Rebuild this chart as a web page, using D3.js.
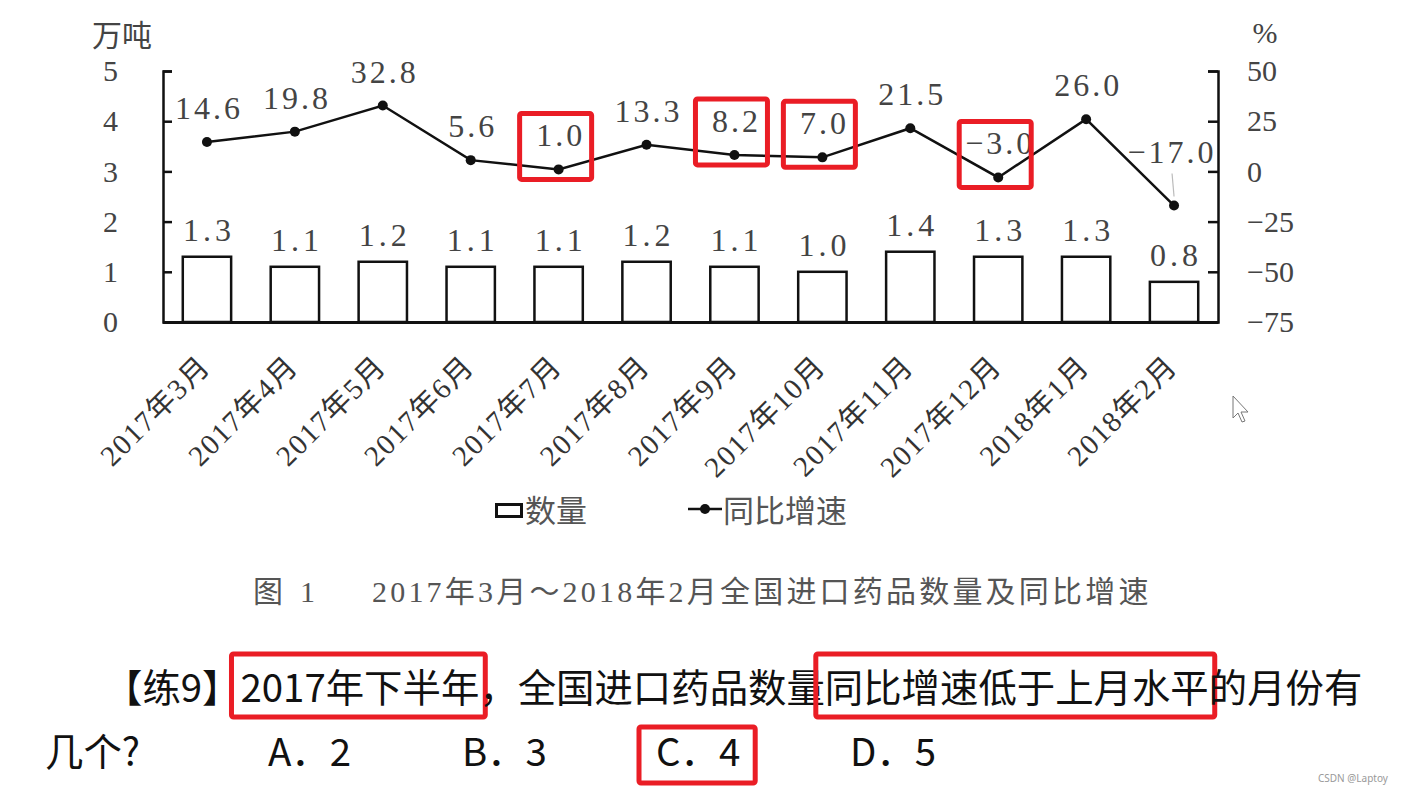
<!DOCTYPE html>
<html>
<head>
<meta charset="utf-8">
<script src="https://cdn.jsdelivr.net/npm/d3@7"></script>
<style>
	body { margin: 0; background: #fff; }
	svg { display: block; }
</style>
</head>
<body>
<div id="viz"></div>
<script>
// data
var months = ['2017年3月', '2017年4月', '2017年5月', '2017年6月', '2017年7月', '2017年8月',
	'2017年9月', '2017年10月', '2017年11月', '2017年12月', '2018年1月', '2018年2月'];
var volume = [1.3, 1.1, 1.2, 1.1, 1.1, 1.2, 1.1, 1.0, 1.4, 1.3, 1.3, 0.8];
var growth = [14.6, 19.8, 32.8, 5.6, 1.0, 13.3, 8.2, 7.0, 21.5, -3.0, 26.0, -17.0];
var leftTicks = [0, 1, 2, 3, 4, 5];
var rightTicks = [-75, -50, -25, 0, 25, 50];
var highlighted = [4, 6, 7, 9];   // months boxed in red
var options = ['A．2', 'B．3', 'C．4', 'D．5'];
var answer = 2;

var serif = "'Liberation Serif', 'Noto Sans CJK SC', serif";
var sans = "'Noto Sans CJK SC', 'Noto Sans', sans-serif";
var red = '#ea1d25';

buildViz();

function buildViz(){

	var width = 1412,
		height = 795,
		left = 163,
		right = 1218,
		top = 71,
		bottom = 322;

	var svg = d3.select('#viz')
		.append('svg')
		.attr('width', width)
		.attr('height', height);

	var x = d3.scaleBand()
		.domain(months)
		.range([left, right])
		.paddingInner(0.45)
		.paddingOuter(0.225);

	var yL = d3.scaleLinear().domain([0, 5]).range([bottom, top]);
	var yR = d3.scaleLinear().domain([-75, 50]).range([bottom, top]);
	var fmt = d3.format('.1f');

	function cx(d){ return x(d) + x.bandwidth()/2; }

	// axes
	var axisL = svg.append('g')
		.attr('transform', 'translate(' + left + ',0)')
		.call(d3.axisLeft(yL).tickValues(leftTicks).tickSize(-9).tickPadding(45).tickFormat(d3.format('d')));

	var axisR = svg.append('g')
		.attr('transform', 'translate(' + right + ',0)')
		.call(d3.axisRight(yR).tickValues(rightTicks).tickSize(-10).tickPadding(29).tickFormat(d3.format('d')));

	[axisL, axisR].forEach(function(a){
		a.select('.domain').attr('stroke', '#111').attr('stroke-width', 2.5);
		a.selectAll('.tick line').attr('stroke', '#111').attr('stroke-width', 2.5);
		a.selectAll('.tick text')
			.style('font-family', serif)
			.style('font-size', '30px')
			.attr('fill', '#444');
	});
	axisR.selectAll('.tick text').attr('text-anchor', 'start');

	var axisX = svg.append('g')
		.attr('transform', 'translate(0,' + bottom + ')')
		.call(d3.axisBottom(x).tickSize(0).tickSizeOuter(0));
	axisX.select('.domain').attr('stroke', '#111').attr('stroke-width', 3);
	axisX.selectAll('.tick text')
		.attr('y', 0)
		.attr('dy', 0)
		.attr('transform', 'translate(5,46) rotate(-45)')
		.attr('text-anchor', 'end')
		.attr('fill', '#333')
		.style('font-family', serif)
		.style('font-size', '29px')
		.style('letter-spacing', '1.5px');

	// unit titles
	svg.append('text')
		.attr('x', 92).attr('y', 46)
		.style('font-family', serif).style('font-size', '30px')
		.attr('fill', '#444')
		.text('万吨');
	svg.append('text')
		.attr('x', 1265).attr('y', 43)
		.attr('text-anchor', 'middle')
		.style('font-family', serif).style('font-size', '30px')
		.attr('fill', '#444')
		.text('%');

	// bars
	svg.selectAll('.bar')
		.data(volume)
		.enter().append('rect')
			.attr('class', 'bar')
			.attr('x', function(d,i){ return x(months[i]); })
			.attr('y', function(d){ return yL(d); })
			.attr('width', x.bandwidth())
			.attr('height', function(d){ return yL(0) - yL(d); })
			.attr('fill', '#fff')
			.attr('stroke', '#111')
			.attr('stroke-width', 2.5);

	svg.selectAll('.bar-label')
		.data(volume)
		.enter().append('text')
			.attr('class', 'bar-label')
			.attr('x', function(d,i){ return cx(months[i]) + 2; })
			.attr('y', function(d){ return yL(d) - 16; })
			.attr('text-anchor', 'middle')
			.attr('fill', '#444')
			.style('font-family', serif)
			.style('font-size', '32px')
			.style('letter-spacing', '4px')
			.text(function(d){ return fmt(d); });

	// growth line
	var line = d3.line()
		.x(function(d,i){ return cx(months[i]); })
		.y(function(d){ return yR(d); });

	svg.append('path')
		.datum(growth)
		.attr('d', line)
		.attr('fill', 'none')
		.attr('stroke', '#111')
		.attr('stroke-width', 2.5);

	svg.selectAll('.point')
		.data(growth)
		.enter().append('circle')
			.attr('class', 'point')
			.attr('cx', function(d,i){ return cx(months[i]); })
			.attr('cy', function(d){ return yR(d); })
			.attr('r', 5)
			.attr('fill', '#111');

	function labelY(d){ return d < -10 ? yR(d) - 43 : yR(d) - 23; }

	// leader line for the label that sits far above its point
	svg.selectAll('.leader')
		.data(growth.filter(function(d){ return d < -10; }))
		.enter().append('line')
			.attr('class', 'leader')
			.attr('x1', function(d){ return cx(months[growth.indexOf(d)]) - 2; })
			.attr('y1', function(d){ return labelY(d) + 11; })
			.attr('x2', function(d){ return cx(months[growth.indexOf(d)]); })
			.attr('y2', function(d){ return yR(d) - 9; })
			.attr('stroke', '#bbb')
			.attr('stroke-width', 1.2);

	svg.selectAll('.point-label')
		.data(growth)
		.enter().append('text')
			.attr('class', 'point-label')
			.attr('x', function(d,i){ return cx(months[i]) + (d < -10 ? -2 : 2); })
			.attr('y', labelY)
			.attr('text-anchor', 'middle')
			.attr('fill', '#444')
			.style('font-family', serif)
			.style('font-size', '32px')
			.style('letter-spacing', '3px')
			.text(function(d){ return fmt(d); });

	// red highlight boxes on the chart
	svg.selectAll('.hl')
		.data(highlighted)
		.enter().append('rect')
			.attr('class', 'hl')
			.attr('x', function(i){ return cx(months[i]) - 39; })
			.attr('y', function(i){ return labelY(growth[i]) - 33; })
			.attr('width', 72)
			.attr('height', function(i){ return yR(growth[i]) + 10 - (labelY(growth[i]) - 33); })
			.attr('rx', 2)
			.attr('fill', 'none')
			.attr('stroke', red)
			.attr('stroke-width', 5);

	// legend
	var legend = svg.append('g');
	legend.append('rect')
		.attr('x', 496.5).attr('y', 504.5)
		.attr('width', 25).attr('height', 12)
		.attr('fill', '#fff').attr('stroke', '#111').attr('stroke-width', 3);
	legend.append('text')
		.attr('x', 525).attr('y', 522)
		.style('font-family', serif).style('font-size', '31px')
		.attr('fill', '#555')
		.text('数量');
	legend.append('line')
		.attr('x1', 688).attr('x2', 722).attr('y1', 509).attr('y2', 509)
		.attr('stroke', '#111').attr('stroke-width', 2.5);
	legend.append('circle')
		.attr('cx', 705).attr('cy', 509).attr('r', 5).attr('fill', '#111');
	legend.append('text')
		.attr('x', 723).attr('y', 522)
		.style('font-family', serif).style('font-size', '31px')
		.attr('fill', '#555')
		.text('同比增速');

	// caption
	svg.append('text')
		.attr('x', 253).attr('y', 602)
		.style('font-family', serif).style('font-size', '30px')
		.attr('fill', '#555')
		.text('图');
	svg.append('text')
		.attr('x', 300).attr('y', 602)
		.style('font-family', serif).style('font-size', '30px')
		.attr('fill', '#555')
		.text('1');
	svg.append('text')
		.attr('x', 372).attr('y', 602)
		.style('font-family', serif).style('font-size', '30px')
		.style('letter-spacing', '3.2px')
		.attr('fill', '#555')
		.text('2017年3月～2018年2月全国进口药品数量及同比增速');

	// question text
	var line1 = [
		{ t: '【练9】', box: false },
		{ t: '2017年下半年', box: true },
		{ t: '，全国进口药品数量', box: false },
		{ t: '同比增速低于上月水平', box: true },
		{ t: '的月份有', box: false }
	];
	var qx = 104, base1 = 702, base2 = 766;
	line1.forEach(function(seg){
		var t = svg.append('text')
			.attr('x', qx).attr('y', base1)
			.style('font-family', sans).style('font-size', '38.4px')
			.attr('fill', '#111')
			.text(seg.t);
		var w = t.node().getComputedTextLength();
		if (seg.box) {
			svg.append('rect')
				.attr('x', qx - 9).attr('y', base1 - 48)
				.attr('width', w + 15).attr('height', 63)
				.attr('rx', 2)
				.attr('fill', 'none').attr('stroke', red).attr('stroke-width', 5);
		}
		qx += w;
	});

	svg.append('text')
		.attr('x', 45).attr('y', base2)
		.style('font-family', sans).style('font-size', '38.4px')
		.attr('fill', '#111')
		.text('几个?');

	options.forEach(function(o, i){
		var ox = 268 + i*194;
		var t = svg.append('text')
			.attr('x', ox).attr('y', base2)
			.style('font-family', sans).style('font-size', '38.4px')
			.attr('fill', '#111')
			.text(o);
		if (i === answer) {
			var w = t.node().getComputedTextLength();
			svg.append('rect')
				.attr('x', ox - 17).attr('y', base2 - 39)
				.attr('width', w + 32).attr('height', 56)
				.attr('rx', 2)
				.attr('fill', 'none').attr('stroke', red).attr('stroke-width', 5);
		}
	});

	// watermark and mouse pointer from the screenshot
	svg.append('text')
		.attr('x', 1318).attr('y', 782)
		.style('font-family', "'Noto Sans', sans-serif").style('font-size', '10px')
		.attr('fill', '#999')
		.text('CSDN @Laptoy');

	svg.append('path')
		.attr('d', 'M0,0 L0,22 L5,17 L9,26 L12,25 L8,16 L15,16 Z')
		.attr('transform', 'translate(1233,396)')
		.attr('fill', '#fff').attr('stroke', '#777').attr('stroke-width', 1);
}
</script>
</body>
</html>
